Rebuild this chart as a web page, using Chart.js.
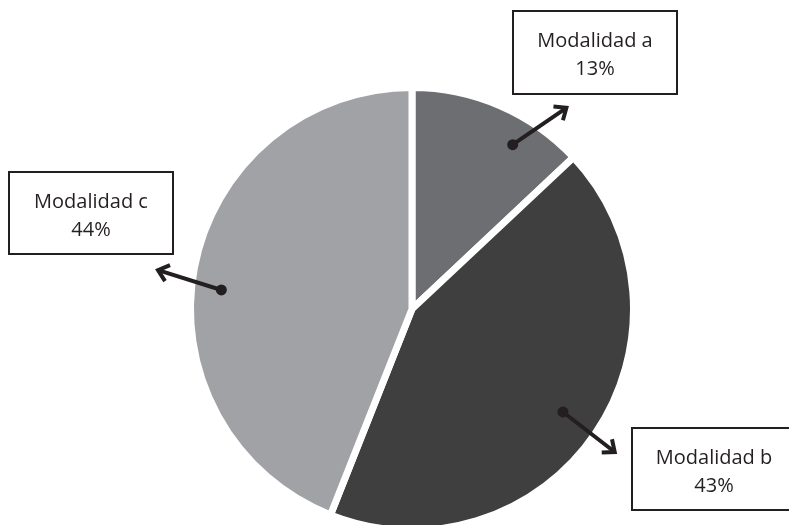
<!DOCTYPE html>
<html>
<head>
<meta charset="utf-8">
<script src="https://cdn.jsdelivr.net/npm/chart.js@4"></script>
<style>
  html, body { margin: 0; padding: 0; background: #fff; }
  #contenedor { width: 789px; height: 525px; position: relative; }
</style>
</head>
<body>
<div id="contenedor"><canvas id="grafico"></canvas></div>
<script>
// datos
const modalidades = ['Modalidad a', 'Modalidad b', 'Modalidad c'];
const porcentajes = [13, 43, 44];
const etiquetas = ['13%', '43%', '44%'];

const colores = ['#6d6e71', '#3f3f3f', '#a1a2a6'];

// cajas de texto y flechas (posicion de las anotaciones)
const cajas = [
    { x: 513, y: 11, w: 164, h: 83 },
    { x: 632, y: 428, w: 170, h: 82 },
    { x: 9, y: 172, w: 164, h: 82 }
];
const flechas = [
    { angDot: 31.5, rDot: 0.87, angPunta: 37.5, rPunta: 1.145 },
    { angDot: 124.3, rDot: 0.825, angPunta: 125.2, rPunta: 1.12 },
    { angDot: 275.7, rDot: 0.865, angPunta: 278.7, rPunta: 1.16 }
];

const tinta = '#231f20';

const anotaciones = {
    id: 'anotaciones',
    afterDatasetsDraw(chart) {
        const ctx = chart.ctx;
        const arcos = chart.getDatasetMeta(0).data;
        ctx.save();
        arcos.forEach((arco, i) => {
            const { x, y, outerRadius } = arco;
            const f = flechas[i];
            const a1 = (f.angDot - 90) * Math.PI / 180;
            const a2 = (f.angPunta - 90) * Math.PI / 180;
            const x1 = x + Math.cos(a1) * outerRadius * f.rDot;
            const y1 = y + Math.sin(a1) * outerRadius * f.rDot;
            const x2 = x + Math.cos(a2) * outerRadius * f.rPunta;
            const y2 = y + Math.sin(a2) * outerRadius * f.rPunta;

            ctx.strokeStyle = tinta;
            ctx.fillStyle = tinta;
            ctx.lineWidth = 4;
            ctx.lineCap = 'butt';
            ctx.lineJoin = 'miter';
            ctx.beginPath();
            ctx.moveTo(x1, y1);
            ctx.lineTo(x2, y2);
            ctx.stroke();

            ctx.beginPath();
            ctx.arc(x1, y1, 5.5, 0, Math.PI * 2);
            ctx.fill();

            // punta de flecha
            const dir = Math.atan2(y2 - y1, x2 - x1);
            const largo = 13;
            ctx.beginPath();
            ctx.moveTo(x2 - Math.cos(dir - 0.7) * largo, y2 - Math.sin(dir - 0.7) * largo);
            ctx.lineTo(x2, y2);
            ctx.lineTo(x2 - Math.cos(dir + 0.7) * largo, y2 - Math.sin(dir + 0.7) * largo);
            ctx.stroke();

            // caja con texto
            const c = cajas[i];
            ctx.fillStyle = '#fff';
            ctx.fillRect(c.x, c.y, c.w, c.h);
            ctx.lineWidth = 2;
            ctx.strokeRect(c.x, c.y, c.w, c.h);

            ctx.fillStyle = tinta;
            ctx.font = '20px "Open Sans"';
            ctx.textAlign = 'center';
            ctx.textBaseline = 'alphabetic';
            const cx = i === 1 ? 714 : c.x + c.w / 2;
            ctx.fillText(modalidades[i], cx, c.y + 36);
            ctx.fillText(etiquetas[i], cx, c.y + 64);
        });
        ctx.restore();
    }
};

const grafico = document.querySelector('#grafico');

new Chart(grafico, {
    type: 'pie',
    data: {
        labels: modalidades,
        datasets: [{
            data: porcentajes,
            backgroundColor: colores,
            borderColor: '#ffffff',
            borderWidth: 7,
            clip: false
        }]
    },
    options: {
        responsive: true,
        maintainAspectRatio: false,
        animation: false,
        radius: 221.5,
        layout: {
            padding: { left: 35, right: 0, top: 93, bottom: 0 }
        },
        plugins: {
            legend: { display: false },
            tooltip: { enabled: false }
        }
    },
    plugins: [anotaciones]
});
</script>
</body>
</html>
